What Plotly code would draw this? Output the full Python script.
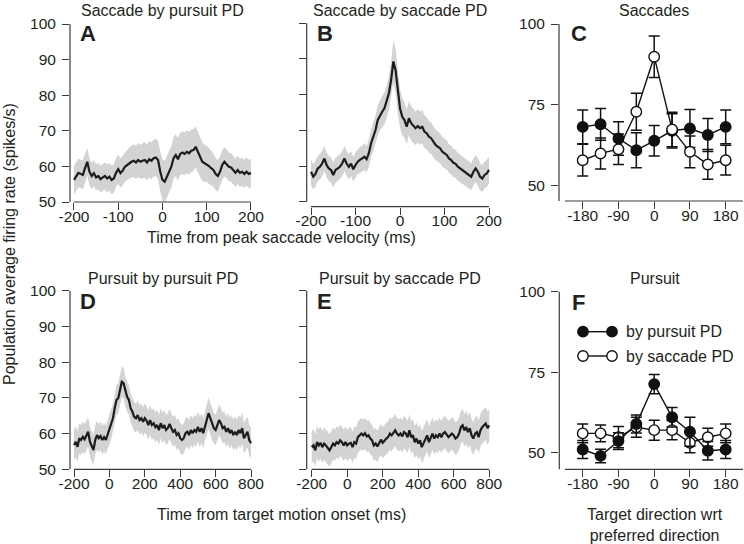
import plotly.graph_objects as go

W, H = 744, 544
FONT = "Liberation Sans, Arial, Helvetica, sans-serif"
TXT = "#231f20"
AXC = "#3a3a3a"
BAND = "#d2d3d5"
LINE = "#1c1c1c"

# ---------------- data ----------------
sacc_t = list(range(-200, 201, 5))
purs_t = list(range(-200, 801, 10))

A_rate = [56.2, 57.1, 58.2, 57.9, 57.6, 59.5, 61.3, 58.5, 57.3, 58.1,
          56.9, 57.3, 56.4, 56.9, 57.3, 56.6, 57.1, 56.2, 56.6, 58.2,
          59.2, 58.1, 58.8, 59.9, 60.4, 61.0, 61.3, 61.6, 61.1, 61.8,
          61.3, 61.6, 61.8, 61.1, 62.0, 61.6, 62.3, 62.5, 61.8, 58.5,
          56.2, 55.7, 57.1, 58.5, 59.9, 62.3, 63.2, 62.0, 63.5, 63.9,
          63.5, 64.1, 63.7, 64.4, 64.6, 65.5, 63.9, 62.7, 61.3, 60.9,
          60.7, 60.1, 59.5, 59.0, 57.9, 57.3, 58.5, 60.4, 61.3, 60.7,
          59.9, 59.7, 59.0, 58.2, 59.0, 58.2, 58.5, 57.9, 58.5, 57.9,
          58.1]
A_sem = [4.0, 4.0, 4.0, 4.0, 4.1, 4.1, 3.9, 3.8, 3.7, 3.7,
         3.7, 3.7, 3.7, 3.8, 3.8, 3.9, 3.9, 4.0, 4.0, 4.0,
         4.1, 4.1, 4.2, 4.2, 4.3, 4.4, 4.5, 4.6, 4.7, 4.8,
         4.8, 4.9, 5.0, 5.0, 5.1, 5.2, 5.2, 5.3, 5.4, 5.6,
         5.8, 5.9, 5.9, 5.8, 5.8, 5.8, 5.9, 6.0, 6.0, 6.0,
         6.0, 6.0, 6.0, 6.0, 5.9, 5.8, 5.7, 5.6, 5.4, 5.2,
         5.1, 5.0, 4.9, 4.7, 4.5, 4.4, 4.3, 4.2, 4.1, 4.1,
         4.0, 4.0, 4.0, 4.0, 4.0, 4.0, 4.0, 4.0, 4.0, 4.0,
         4.0]

B_rate = [58.4, 57.0, 57.8, 59.3, 59.8, 60.7, 62.1, 60.3, 59.3, 58.9,
          57.5, 58.9, 59.3, 59.8, 60.7, 62.1, 60.7, 59.8, 60.7, 59.1,
          60.3, 61.2, 61.7, 62.1, 62.6, 61.9, 63.6, 66.4, 68.2, 70.1,
          72.9, 74.3, 75.2, 76.2, 78.0, 80.4, 84.1, 89.3, 86.9, 80.8,
          76.2, 73.8, 72.9, 71.0, 73.4, 72.0, 71.2, 70.6, 71.2, 70.6,
          71.0, 69.6, 69.2, 68.2, 67.8, 66.8, 65.9, 65.4, 65.0, 64.0,
          63.6, 63.1, 62.1, 61.7, 60.9, 60.6, 59.8, 59.3, 58.9, 58.4,
          57.9, 57.5, 57.0, 58.4, 59.3, 58.4, 57.0, 56.5, 57.5, 57.9,
          58.9]
B_sem = [3.6, 3.6, 3.6, 3.6, 3.6, 3.6, 3.5, 3.5, 3.5, 3.5,
         3.5, 3.5, 3.5, 3.5, 3.5, 3.5, 3.5, 3.5, 3.5, 3.5,
         3.5, 3.5, 3.6, 3.6, 3.7, 3.7, 3.8, 3.9, 4.0, 4.1,
         4.2, 4.3, 4.4, 4.5, 4.6, 4.8, 5.2, 6.0, 6.3, 6.0,
         5.5, 5.2, 5.0, 4.9, 4.8, 4.8, 4.8, 4.7, 4.7, 4.7,
         4.6, 4.6, 4.5, 4.5, 4.4, 4.4, 4.3, 4.3, 4.2, 4.2,
         4.1, 4.1, 4.0, 4.0, 4.0, 3.9, 3.9, 3.9, 3.8, 3.8,
         3.8, 3.8, 3.8, 3.8, 3.8, 3.8, 3.8, 3.8, 3.8, 3.8,
         3.8]

D_rate = [56.8, 57.7, 56.3, 58.7, 58.2, 59.1, 58.4, 59.6, 60.5, 57.7,
          56.3, 55.4, 58.2, 59.6, 58.7, 59.3, 58.2, 59.0, 58.2, 59.6,
          61.0, 62.4, 64.3, 67.1, 69.4, 69.9, 72.2, 74.5, 74.1, 71.7,
          70.3, 69.4, 67.1, 66.1, 64.7, 64.3, 65.2, 63.8, 64.3, 63.3,
          64.3, 63.6, 62.4, 63.8, 62.4, 62.9, 61.8, 62.4, 61.0, 62.9,
          61.5, 62.4, 61.0, 61.5, 62.7, 61.5, 60.5, 61.0, 59.6, 60.1,
          58.7, 58.2, 58.7, 60.1, 60.5, 59.6, 61.0, 60.1, 61.0, 60.5,
          61.9, 60.5, 61.5, 60.1, 62.4, 63.8, 65.7, 64.3, 62.4, 61.5,
          61.0, 62.4, 63.8, 62.9, 61.5, 61.9, 60.5, 61.5, 60.1, 61.0,
          59.6, 60.5, 59.6, 61.0, 60.1, 61.5, 58.7, 59.6, 60.5, 58.2,
          57.3]
D_sem = [4.3, 4.3, 4.3, 4.2, 4.2, 4.2, 4.2, 4.2, 4.1, 4.1,
         4.1, 4.1, 4.1, 4.0, 4.0, 4.0, 4.0, 4.0, 4.0, 4.0,
         4.0, 4.0, 4.1, 4.1, 4.2, 4.2, 4.3, 4.3, 4.3, 4.2,
         4.2, 4.1, 4.1, 4.1, 4.1, 4.1, 4.1, 4.1, 4.1, 4.1,
         4.1, 4.1, 4.1, 4.2, 4.2, 4.2, 4.2, 4.2, 4.2, 4.2,
         4.2, 4.2, 4.2, 4.2, 4.2, 4.2, 4.2, 4.2, 4.2, 4.2,
         4.2, 4.2, 4.2, 4.2, 4.2, 4.2, 4.2, 4.2, 4.2, 4.2,
         4.2, 4.2, 4.2, 4.2, 4.3, 4.3, 4.4, 4.4, 4.3, 4.3,
         4.3, 4.3, 4.3, 4.3, 4.3, 4.3, 4.3, 4.3, 4.3, 4.3,
         4.3, 4.3, 4.3, 4.3, 4.3, 4.3, 4.3, 4.3, 4.3, 4.3,
         4.3]

E_rate = [56.2, 56.7, 55.3, 57.6, 56.7, 57.4, 56.2, 57.2, 56.7, 55.8,
          55.3, 56.2, 57.2, 56.7, 57.6, 57.2, 58.1, 57.6, 56.7, 57.6,
          56.7, 57.2, 57.4, 56.2, 57.6, 57.2, 59.0, 59.5, 60.0, 59.5,
          60.1, 59.2, 59.5, 58.6, 58.1, 56.7, 57.2, 56.4, 57.6, 58.3,
          57.4, 58.1, 58.6, 59.0, 60.0, 59.5, 60.4, 60.9, 60.0, 59.5,
          60.0, 59.2, 60.4, 60.0, 59.0, 60.9, 59.0, 59.5, 57.6, 58.6,
          57.2, 58.1, 56.2, 57.2, 58.6, 59.5, 57.6, 59.0, 60.0, 58.6,
          59.5, 59.0, 60.0, 59.0, 60.0, 60.4, 59.5, 59.0, 59.5, 60.0,
          59.5, 58.6, 59.0, 60.0, 61.8, 62.3, 60.9, 61.8, 60.4, 61.5,
          59.5, 58.6, 60.0, 60.4, 59.0, 60.9, 61.8, 62.3, 62.8, 61.5,
          62.3]
E_sem = [4.5, 4.5, 4.5, 4.5, 4.5, 4.5, 4.5, 4.5, 4.5, 4.5,
         4.5, 4.5, 4.5, 4.4, 4.4, 4.4, 4.4, 4.4, 4.4, 4.4,
         4.4, 4.4, 4.4, 4.4, 4.4, 4.4, 4.4, 4.4, 4.4, 4.4,
         4.4, 4.4, 4.4, 4.4, 4.4, 4.4, 4.4, 4.4, 4.4, 4.4,
         4.4, 4.4, 4.4, 4.4, 4.5, 4.5, 4.5, 4.5, 4.5, 4.5,
         4.5, 4.5, 4.5, 4.5, 4.5, 4.5, 4.5, 4.5, 4.5, 4.5,
         4.5, 4.5, 4.5, 4.5, 4.5, 4.5, 4.5, 4.5, 4.5, 4.5,
         4.5, 4.5, 4.5, 4.5, 4.5, 4.5, 4.5, 4.5, 4.5, 4.5,
         4.6, 4.6, 4.6, 4.6, 4.6, 4.6, 4.6, 4.6, 4.6, 4.6,
         4.6, 4.6, 4.6, 4.6, 4.6, 4.6, 4.6, 4.6, 4.6, 4.6,
         4.6]

dirs = [-180, -135, -90, -45, 0, 45, 90, 135, 180]
C_by_pursuit = [68.2, 69.0, 64.6, 61.0, 63.9, 67.0, 67.7, 65.7, 68.2]
C_by_pursuit_err = [5.2, 4.9, 5.2, 5.4, 4.7, 5.3, 5.9, 5.1, 5.2]
C_by_saccade = [57.9, 60.0, 61.3, 72.9, 89.9, 67.4, 60.5, 56.6, 57.9]
C_by_saccade_err = [4.9, 4.8, 4.7, 5.7, 6.4, 5.3, 4.9, 4.6, 4.6]

F_by_pursuit = [51.0, 49.0, 53.6, 58.9, 71.3, 61.0, 56.5, 50.6, 51.0]
F_by_pursuit_err = [2.8, 2.1, 2.6, 2.8, 3.0, 3.0, 4.5, 2.9, 2.8]
F_by_saccade = [56.0, 56.0, 54.8, 57.9, 57.0, 57.0, 53.1, 54.8, 56.0]
F_by_saccade_err = [2.9, 2.6, 3.3, 3.1, 3.1, 3.0, 3.1, 2.8, 2.9]

sacc_ticks = [-200, -100, 0, 100, 200]
purs_ticks = [-200, 0, 200, 400, 600, 800]
dir_ticks = [-180, -90, 0, 90, 180]
rate_ticks = [50, 60, 70, 80, 90, 100]
tuning_ticks = [50, 75, 100]

# ---------------- geometry (pixels) ----------------
panels = {
    "A": dict(n="", xd=(70, 252), yd=(24, 202), xr=(-209.0, 202.3), yr=(50, 100),
              xline=(-200, 200), yline=(50, 100)),
    "B": dict(n="2", xd=(306.7, 491), yd=(23.3, 206.7), xr=(-209.7, 204.5), yr=(48.6, 100),
              xline=(-200, 200), yline=(50, 100)),
    "C": dict(n="3", xd=(559, 744), yd=(24, 201), xr=(-239.7, 226.1), yr=(45.3, 100),
              xline=(-224.6, 223.6), yline=(45.3, 100)),
    "D": dict(n="4", xd=(70, 252), yd=(290.7, 469.3), xr=(-222.6, 805.6), yr=(50, 100),
              xline=(-200, 800), yline=(50, 100)),
    "E": dict(n="5", xd=(306.7, 490.5), yd=(290.7, 469.3), xr=(-228.2, 806.8), yr=(50, 100),
              xline=(-200, 800), yline=(50, 100)),
    "F": dict(n="6", xd=(559.3, 744), yd=(291.7, 469.3), xr=(-238.9, 226.1), yr=(44.84, 100),
              xline=(-224.6, 223.6), yline=(44.84, 100)),
}


def xdom(p):
    return [p["xd"][0] / W, p["xd"][1] / W]


def ydom(p):
    return [1 - p["yd"][1] / H, 1 - p["yd"][0] / H]


def xpaper(p, v):
    d = xdom(p)
    return d[0] + (v - p["xr"][0]) / (p["xr"][1] - p["xr"][0]) * (d[1] - d[0])


def ypaper(p, v):
    d = ydom(p)
    return d[0] + (v - p["yr"][0]) / (p["yr"][1] - p["yr"][0]) * (d[1] - d[0])


fig = go.Figure()


def add_trace_panel(key, t, rate, sem):
    p = panels[key]
    xa, ya = "x" + p["n"], "y" + p["n"]
    upper = [r + s for r, s in zip(rate, sem)]
    lower = [r - s for r, s in zip(rate, sem)]
    fig.add_trace(go.Scatter(x=t + t[::-1], y=upper + lower[::-1], fill="toself",
                             fillcolor=BAND, line=dict(width=0), mode="lines",
                             hoverinfo="skip", showlegend=False, xaxis=xa, yaxis=ya))
    fig.add_trace(go.Scatter(x=t, y=rate, mode="lines", line=dict(color=LINE, width=2.2),
                             showlegend=False, xaxis=xa, yaxis=ya))


add_trace_panel("A", sacc_t, A_rate, A_sem)
add_trace_panel("B", sacc_t, B_rate, B_sem)
add_trace_panel("D", purs_t, D_rate, D_sem)
add_trace_panel("E", purs_t, E_rate, E_sem)


def add_tuning(key, series, on_top_open):
    p = panels[key]
    xa, ya = "x" + p["n"], "y" + p["n"]
    order = series if on_top_open else series[::-1]
    for vals, errs, fill in order:
        fig.add_trace(go.Scatter(
            x=dirs, y=vals, mode="lines+markers", xaxis=xa, yaxis=ya, showlegend=False,
            line=dict(color="#111", width=1.4),
            marker=dict(size=10.5, color=fill, line=dict(color="#111", width=1.4)),
            error_y=dict(type="data", array=errs, color="#111", thickness=1.5, width=5.5)))


add_tuning("C", [(C_by_pursuit, C_by_pursuit_err, "#111"),
                 (C_by_saccade, C_by_saccade_err, "white")], True)
add_tuning("F", [(F_by_pursuit, F_by_pursuit_err, "#111"),
                 (F_by_saccade, F_by_saccade_err, "white")], False)

layout = dict(width=W, height=H, autosize=False,
              margin=dict(l=0, r=0, t=0, b=0, pad=0, autoexpand=False),
              paper_bgcolor="white", plot_bgcolor="white",
              font=dict(family=FONT, color=TXT, size=15.5), showlegend=False)

tick_common = dict(ticks="outside", ticklen=7, tickwidth=1, tickcolor=AXC,
                   showline=False, showgrid=False, zeroline=False, automargin=False,
                   tickfont=dict(family=FONT, size=15.5, color=TXT), fixedrange=True)

xt = {"A": sacc_ticks, "B": sacc_ticks, "C": dir_ticks,
      "D": purs_ticks, "E": purs_ticks, "F": dir_ticks}
yt = {"A": rate_ticks, "B": rate_ticks, "C": tuning_ticks,
      "D": rate_ticks, "E": rate_ticks, "F": tuning_ticks}
ylab = {"A": True, "B": False, "C": True, "D": True, "E": False, "F": True}

shapes = []
for key, p in panels.items():
    n = p["n"]
    layout["xaxis" + n] = dict(domain=xdom(p), range=list(p["xr"]), anchor="y" + n,
                               tickvals=xt[key], ticktext=[str(v) for v in xt[key]],
                               ticklabelstandoff=-7, **tick_common)
    layout["yaxis" + n] = dict(domain=ydom(p), range=list(p["yr"]), anchor="x" + n,
                               tickvals=yt[key], showticklabels=ylab[key],
                               ticklabelstandoff=3, **tick_common)
    yb = ydom(p)[0]
    xl = xdom(p)[0]
    shapes.append(dict(type="line", xref="paper", yref="paper",
                       x0=xpaper(p, p["xline"][0]), x1=xpaper(p, p["xline"][1]),
                       y0=yb, y1=yb, line=dict(color=AXC, width=1.2)))
    shapes.append(dict(type="line", xref="paper", yref="paper",
                       x0=xl, x1=xl, y0=ypaper(p, p["yline"][0]), y1=ypaper(p, p["yline"][1]),
                       line=dict(color=AXC, width=1.2)))

# legend of panel F
leg_rows = [(331.7, "#111", "by pursuit PD"), (356.0, "white", "by saccade PD")]
annotations = []
for py, fill, label in leg_rows:
    yv = 1 - py / H
    shapes.append(dict(type="line", xref="paper", yref="paper", x0=583 / W, x1=612 / W,
                       y0=yv, y1=yv, line=dict(color="#111", width=1.4)))
    for px in (583, 612):
        shapes.append(dict(type="circle", xref="paper", yref="paper",
                           xsizemode="pixel", ysizemode="pixel",
                           xanchor=px / W, yanchor=yv, x0=-5.2, x1=5.2, y0=-5.2, y1=5.2,
                           fillcolor=fill, line=dict(color="#111", width=1.4)))
    annotations.append(dict(text=label, x=624 / W, y=yv, xref="paper", yref="paper",
                            xanchor="left", yanchor="middle", showarrow=False,
                            font=dict(size=16, family=FONT, color=TXT)))

titles = [("Saccade by pursuit PD", 162, 10), ("Saccade by saccade PD", 400, 10),
          ("Saccades", 654, 10), ("Pursuit by pursuit PD", 162.5, 278),
          ("Pursuit by saccade PD", 400, 278), ("Pursuit", 654.5, 278)]
for txt, px, py in titles:
    annotations.append(dict(text=txt, x=px / W, y=1 - py / H, xref="paper", yref="paper",
                            xanchor="center", yanchor="middle", showarrow=False,
                            font=dict(size=16, family=FONT, color=TXT)))

letters = [("A", 88, 33), ("B", 325, 33), ("C", 579, 33),
           ("D", 88, 301.5), ("E", 324, 301.5), ("F", 578, 302)]
for txt, px, py in letters:
    annotations.append(dict(text="<b>" + txt + "</b>", x=px / W, y=1 - py / H,
                            xref="paper", yref="paper", xanchor="center", yanchor="middle",
                            showarrow=False, font=dict(size=22, family=FONT, color=TXT)))

axis_titles = [("Time from peak saccade velocity (ms)", 281, 237.5, 0),
               ("Time from target motion onset (ms)", 281, 514, 0),
               ("Target direction wrt<br>preferred direction", 654.5, 524.5, 0),
               ("Population average firing rate (spikes/s)", 10, 244, -90)]
for txt, px, py, ang in axis_titles:
    annotations.append(dict(text=txt, x=px / W, y=1 - py / H, xref="paper", yref="paper",
                            xanchor="center", yanchor="middle", showarrow=False,
                            textangle=ang, font=dict(size=16, family=FONT, color=TXT)))

layout["shapes"] = shapes
layout["annotations"] = annotations
fig.update_layout(**layout)
fig.write_html("out.html", config={"displayModeBar": False, "staticPlot": True},
               post_script="document.body.style.margin='0px';document.body.style.overflow='hidden';")
